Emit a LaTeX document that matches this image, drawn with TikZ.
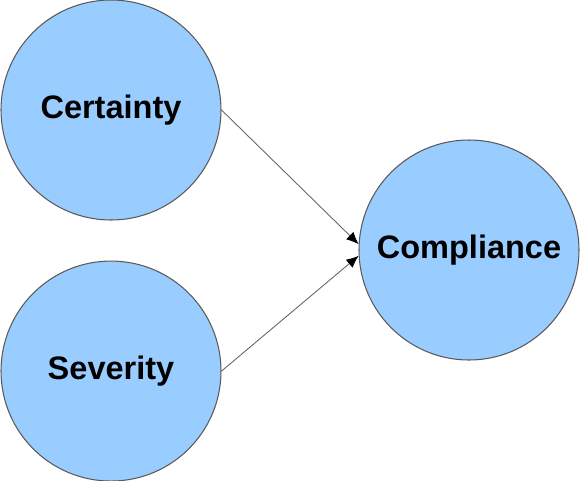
\documentclass[tikz,border=0pt]{standalone}
\usepackage{fontspec}
\setmainfont{Liberation Sans}
\usetikzlibrary{positioning, arrows.meta}

\definecolor{circfill}{RGB}{153,204,255}
\definecolor{circline}{RGB}{90,90,90}

\tikzset{
	factor/.style={circle, draw=circline, fill=circfill, line width=0.6pt,
		minimum size=4.4cm, inner sep=0pt, font=\bfseries\fontsize{18.5}{20}\selectfont},
	link/.style={draw=gray!80!black, line width=0.5pt, -{Latex[black, length=7pt, width=6pt]}}
}

\begin{document}
\begin{tikzpicture}

		\useasboundingbox (0,0) rectangle (11.6,-9.6);

		\node[factor] (certainty) at (2.22,-2.2) {Certainty};
		\node[factor, below=0.8cm of certainty] (severity) {Severity};
		\node[factor] (compliance) at (9.38,-5.0) {Compliance};

		\draw[link] (certainty.east) -- (compliance.177);
		\draw[link] (severity.east) -- (compliance.183);
		\end{tikzpicture}
\end{document}
